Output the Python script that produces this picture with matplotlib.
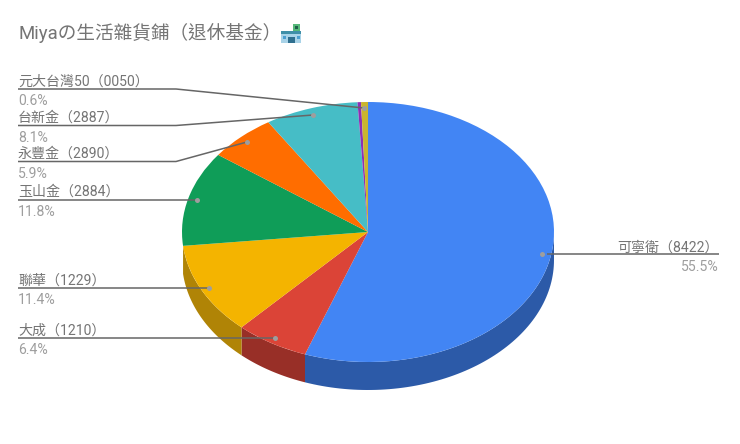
import numpy as np
import matplotlib
matplotlib.use("Agg")
import matplotlib.pyplot as plt
from matplotlib.patches import Rectangle, Polygon

plt.rcParams['font.family'] = ['Roboto', 'Noto Sans CJK TC', 'DejaVu Sans']

title = "Miyaの生活雜貨鋪（退休基金）"
names = ["可寧衛（8422）", "大成（1210）", "聯華（1229）", "玉山金（2884）",
         "永豐金（2890）", "台新金（2887）", "", "元大台灣50（0050）"]
shares = [55.5, 6.4, 11.4, 11.8, 5.9, 8.1, 0.3, 0.6]
pct_labels = ["55.5%", "6.4%", "11.4%", "11.8%", "5.9%", "8.1%", "", "0.6%"]
colors = ["#4285f4", "#db4437", "#f4b400", "#0f9d58", "#ff6d00", "#46bdc6", "#8e30b4", "#c9b52f"]
dark_colors = ["#2c5aa8", "#982f27", "#b08406", "#0a6e3e", "#b34c00", "#318489", "#772289", "#8d7f21"]

W, H = 740, 444
fig = plt.figure(figsize=(W / 100, H / 100), dpi=100, facecolor="white")

# pie axes: the plotting box is stretched, which gives the tilted ellipse
cx0, cy0, rx, ry, depth = 368, 232, 186, 130, 28
ax = fig.add_axes([(cx0 - rx) / W, (H - cy0 - ry) / H, 2 * rx / W, 2 * ry / H])
ax.pie(shares, colors=colors, startangle=90, counterclock=False, radius=1,
       wedgeprops=dict(linewidth=0), frame=False)
ax.set_aspect("auto")
ax.set_xlim(-1, 1)
ax.set_ylim(-1, 1)

# side wall of the lower half, from the same shares (stops at the yellow slice's end)
edges = np.concatenate([[0], np.cumsum(shares)]) / np.sum(shares) * 360
d = depth / ry
for i in range(3):
    a0, a1 = max(edges[i], 90), min(edges[i + 1], 270)
    t = np.radians(np.linspace(a0, a1, 80))
    x, y = np.sin(t), np.cos(t)
    pts = np.r_[np.c_[x, y], np.c_[x, y - d][::-1]]
    ax.add_patch(Polygon(pts, closed=True, fc=dark_colors[i], ec="none", clip_on=False, zorder=0))

# overlay in pixel coordinates for text, leaders and the title icon
ov = fig.add_axes([0, 0, 1, 1], facecolor="none")
ov.set_xlim(0, W)
ov.set_ylim(H, 0)
ov.axis("off")

ov.text(18, 33, title, fontsize=13.4, color="#757575", va="center", ha="left")

# title icon (shop emoji)
ov.add_patch(Rectangle((281, 32), 20, 11, fc="#a9d3e8", ec="none"))
ov.add_patch(Rectangle((281, 31), 20, 3, fc="#3f8fa8", ec="none"))
ov.add_patch(Rectangle((288, 37), 7, 6, fc="#2f6f8f", ec="none"))
ov.add_patch(Rectangle((283, 36), 3, 3, fc="#4c9fd0", ec="none"))
ov.add_patch(Rectangle((297, 36), 3, 3, fc="#4c9fd0", ec="none"))
ov.add_patch(Rectangle((293, 24), 7, 7, fc="#56b87a", ec="none"))
ov.add_patch(Rectangle((295, 26), 3, 3, fc="#1f5f4a", ec="none"))

line_col = "#666666"
dot_col = "#9e9e9e"
leaders = [
    ([547, 719], [254, 254], (542, 254)),
    ([18, 275], [338, 338], (275, 338)),
    ([18, 209], [288, 288], (209, 288)),
    ([18, 197], [200, 200], (197, 200)),
    ([18, 176, 247], [161.5, 161.5, 142], (247, 142)),
    ([18, 176, 313], [125.5, 125.5, 115], (313, 115)),
    None,
    ([18, 176, 364], [89, 89, 108], (364, 108)),
]
name_y = [248, 331, 281, 192, 154, 118, None, 82]
pct_y = [267, 350, 300, 212, 174, 138, None, 101]

for i, leader in enumerate(leaders):
    if leader is None:
        continue
    xs, ys, dot = leader
    ov.plot(xs, ys, color=line_col, lw=1.1, solid_capstyle="butt", zorder=3)
    ov.plot([dot[0]], [dot[1]], "o", ms=3.6, color=dot_col, mew=0, zorder=4)
    if i == 0:
        tx, ha = 719, "right"
    else:
        tx, ha = 18, "left"
    ov.text(tx, name_y[i], names[i], fontsize=10.1, color="#757575", va="center", ha=ha)
    ov.text(tx, pct_y[i], pct_labels[i], fontsize=10.1, color="#9e9e9e", va="center", ha=ha)

fig.savefig("out.png", dpi=100, facecolor="white")
